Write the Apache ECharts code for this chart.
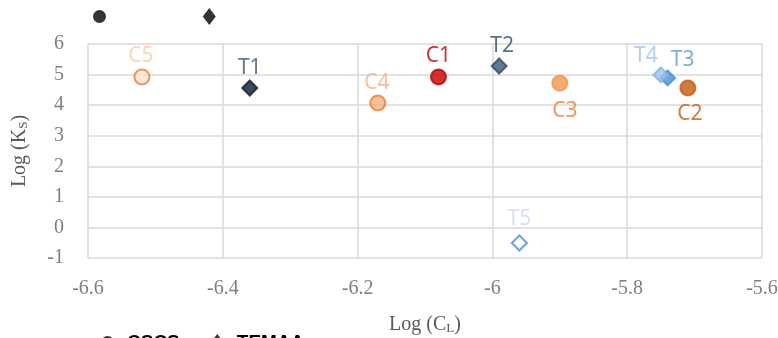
<!DOCTYPE html>
<html>
<head>
<meta charset="utf-8">
<script src="https://cdn.jsdelivr.net/npm/echarts@6/dist/echarts.min.js"></script>
<style>
  html, body { margin: 0; padding: 0; background: #fff; }
  #chart { width: 778px; height: 338px; }
</style>
</head>
<body>
<div id="chart"></div>
<script>
// Log (C_L) vs Log (K_S) for the CSCS and TEMAA samples
const cscsNames = ['C1', 'C2', 'C3', 'C4', 'C5'];
const cscsLogCL = [-6.08, -5.71, -5.90, -6.17, -6.52];
const cscsLogKS = [4.92, 4.56, 4.72, 4.07, 4.92];

const temaaNames = ['T1', 'T2', 'T3', 'T4', 'T5'];
const temaaLogCL = [-6.36, -5.99, -5.74, -5.75, -5.96];
const temaaLogKS = [4.56, 5.28, 4.89, 4.99, -0.51];

const xTicks = [-6.6, -6.4, -6.2, -6, -5.8, -5.6];
const yTicks = [-1, 0, 1, 2, 3, 4, 5, 6];

// per-sample look: fill, border, label colour and label offset from the marker centre
const sampleStyle = {
  C1: { fill: '#C00000', stroke: '#C00000', text: '#C00000', off: [0, -21] },
  C2: { fill: '#C55A11', stroke: '#C55A11', text: '#C55A11', off: [2, 26] },
  C3: { fill: '#F0964A', stroke: '#F0964A', text: '#ED7D31', off: [5, 28] },
  C4: { fill: '#F4B183', stroke: '#ED7D31', text: '#F4B183', off: [-1, -20] },
  C5: { fill: '#FBE5D6', stroke: '#ED7D31', text: '#F8CBAD', off: [-1, -21] },
  T1: { fill: '#0D1A33', stroke: '#0D1A33', text: '#44546A', off: [0, -20] },
  T2: { fill: '#3A5878', stroke: '#2F4A6A', text: '#2E4C70', off: [3, -20] },
  T3: { fill: '#4A8ED4', stroke: '#4A8ED4', text: '#5B9BD5', off: [15, -18] },
  T4: { fill: '#9DC3E6', stroke: '#7FAFE0', text: '#9DC3E6', off: [-15, -19] },
  T5: { fill: '#FFFFFF', stroke: '#4A8ED4', text: '#C5DCF2', off: [0, -24] }
};

function buildPoints(names, xs, ys) {
  return names.map((n, i) => {
    const s = sampleStyle[n];
    return {
      name: n,
      value: [xs[i], ys[i]],
      itemStyle: { color: s.fill, borderColor: s.stroke, borderWidth: 2 },
      label: { color: s.text, offset: s.off }
    };
  });
}

const pointLabel = {
  show: true,
  position: 'inside',
  formatter: p => p.name,
  fontFamily: 'Noto Sans',
  fontSize: 21
};

const serif = 'Liberation Serif';
const gridLine = { show: true, lineStyle: { color: '#D9D9D9', width: 1.5 } };

const legendItems = [
  { name: 'CSCS', icon: 'circle', itemStyle: { color: '#000', borderWidth: 0 } },
  { name: 'TEMAA', icon: 'path://M10,0L20,13L10,26L0,13Z', itemStyle: { color: '#000', borderWidth: 0 } }
];

const chart = echarts.init(document.getElementById('chart'), null, { renderer: 'canvas' });
chart.setOption({
  animation: false,
  backgroundColor: '#fff',
  grid: { left: 88, right: 16, top: 44, bottom: 80, outerBoundsMode: 'none', containLabel: false },
  legend: [
    {
      data: legendItems, left: 93, top: 7, padding: 0, itemWidth: 13, itemHeight: 18, itemGap: 31,
      textStyle: { color: 'rgba(0,0,0,0)', fontFamily: 'Liberation Sans', fontWeight: 'bold', fontSize: 19, padding: [0, 0, 0, 8] }
    },
    {
      data: legendItems, left: 101, top: 333, padding: 0, itemWidth: 13, itemHeight: 18, itemGap: 31,
      textStyle: { color: '#000', fontFamily: 'Liberation Sans', fontWeight: 'bold', fontSize: 19, padding: [0, 0, 0, 8] }
    }
  ],
  xAxis: {
    type: 'value',
    min: xTicks[0],
    max: xTicks[xTicks.length - 1],
    interval: 0.2,
    name: '{a|Log (C}{s|L}{a|)}',
    nameLocation: 'middle',
    nameGap: 56,
    nameTextStyle: {
      rich: {
        a: { fontFamily: serif, fontSize: 20, color: '#595959' },
        s: { fontFamily: serif, fontSize: 13, color: '#595959', verticalAlign: 'bottom', padding: [8, 0, 0, 0] }
      }
    },
    axisLine: { show: false },
    axisTick: { show: false },
    splitLine: gridLine,
    axisLabel: {
      margin: 21,
      fontFamily: serif,
      fontSize: 20,
      color: '#7F7F7F',
      formatter: v => String(Math.round(v * 10) / 10)
    }
  },
  yAxis: {
    type: 'value',
    min: yTicks[0],
    max: yTicks[yTicks.length - 1],
    interval: 1,
    name: '{a|Log (K}{s|S}{a|)}',
    nameLocation: 'middle',
    nameGap: 58,
    nameRotate: 90,
    nameTextStyle: {
      rich: {
        a: { fontFamily: serif, fontSize: 20, color: '#595959' },
        s: { fontFamily: serif, fontSize: 13, color: '#595959', verticalAlign: 'bottom', padding: [8, 0, 0, 0] }
      }
    },
    axisLine: { show: false },
    axisTick: { show: false },
    splitLine: gridLine,
    axisLabel: {
      margin: 24,
      fontFamily: serif,
      fontSize: 20,
      color: '#7F7F7F'
    }
  },
  series: [
    {
      name: 'CSCS',
      type: 'scatter',
      symbol: 'circle',
      symbolSize: 15,
      itemStyle: { color: '#000' },
      label: pointLabel,
      data: buildPoints(cscsNames, cscsLogCL, cscsLogKS)
    },
    {
      name: 'TEMAA',
      type: 'scatter',
      symbol: 'diamond',
      symbolSize: 15,
      itemStyle: { color: '#000' },
      label: pointLabel,
      data: buildPoints(temaaNames, temaaLogCL, temaaLogKS)
    }
  ]
});
</script>
</body>
</html>
